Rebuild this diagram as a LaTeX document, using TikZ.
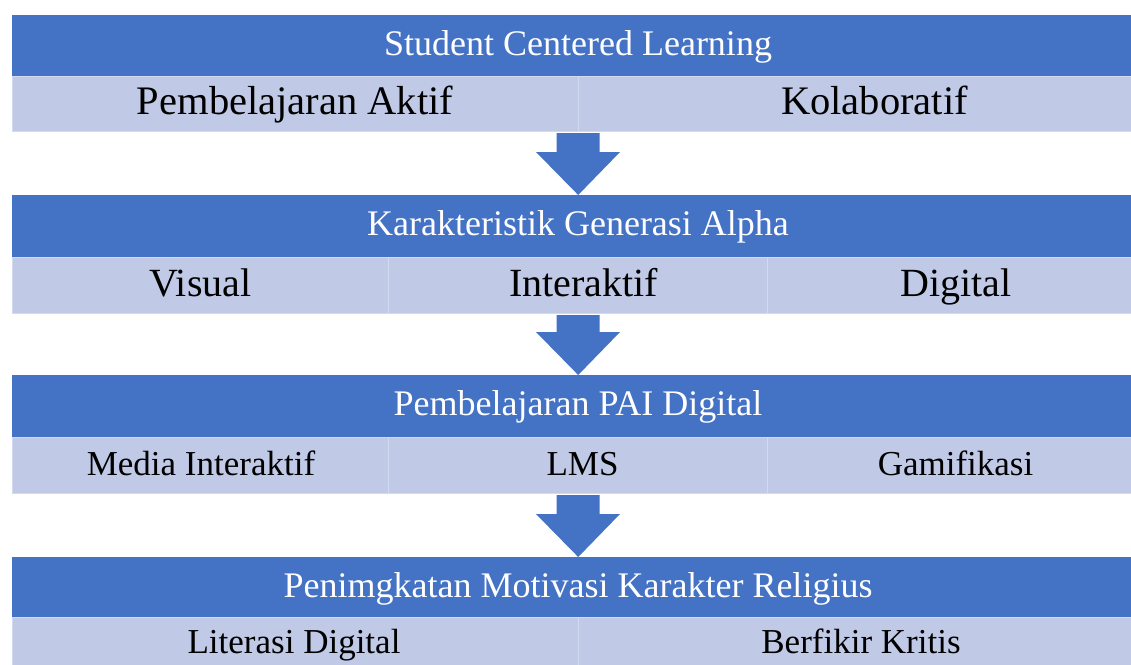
\documentclass[tikz,border=0pt]{standalone}
\usepackage{fontspec}
\setmainfont{Liberation Serif}
\usetikzlibrary{calc}
\definecolor{hblue}{HTML}{4472C4}
\definecolor{lfill}{HTML}{C0C9E6}
\definecolor{lline}{HTML}{D3D9EE}
\newcommand\blockarrow[2]{%
  \fill[hblue] let \p1=(#1), \p2=(#2) in
    (\x1-21.5pt,\y1) -- (\x1+21.5pt,\y1) -- (\x1+21.5pt,\y2+43pt) -- (\x1+42pt,\y2+43pt)
    -- (\x2,\y2) -- (\x1-42pt,\y2+43pt) -- (\x1-21.5pt,\y2+43pt) -- cycle;}
\begin{document}
\begin{tikzpicture}[x=1pt,y=-1pt,
  hdr/.style={fill=hblue, draw=none, minimum width=1132pt, anchor=north west, inner sep=0pt},
  cell/.style={fill=lfill, draw=lline, line width=1.2pt, anchor=north west, inner sep=0pt},
  htext/.style={text=white, font=\fontsize{36}{40}\selectfont, anchor=base, inner sep=0pt},
  bigtext/.style={text=black, font=\fontsize{40.5}{44}\selectfont, anchor=base, inner sep=0pt},
  midtext/.style={text=black, font=\fontsize{40}{44}\selectfont, anchor=base, inner sep=0pt},
  smalltext/.style={text=black, font=\fontsize{35}{40}\selectfont, anchor=base, inner sep=0pt}]
\useasboundingbox (0,0) rectangle (1131,664);
\clip (0,0) rectangle (1131,664);
% block 1
\node[hdr, minimum height=61pt] (h1) at (12,15) {};
\node[cell, minimum width=566pt, minimum height=55pt] (c11) at (12,76) {};
\node[cell, minimum width=566pt, minimum height=55pt] (c12) at (578,76) {};
\node[htext] (t1) at (578,55) {Student Centered Learning};
\node[bigtext] (x11) at (295,114) {Pembelajaran Aktif};
\node[bigtext] (x12) at (874.5,114) {Kolaboratif};
% block 2
\node[hdr, minimum height=62pt] (h2) at (12,195) {};
\node[cell, minimum width=376pt, minimum height=56pt] (c21) at (12,257) {};
\node[cell, minimum width=379pt, minimum height=56pt] (c22) at (388,257) {};
\node[cell, minimum width=377pt, minimum height=56pt] (c23) at (767,257) {};
\node[htext] (t2) at (578,235) {Karakteristik Generasi Alpha};
\node[midtext] (x21) at (200.5,296) {Visual};
\node[midtext] (x22) at (583.5,296) {Interaktif};
\node[midtext] (x23) at (956,296) {Digital};
% block 3
\node[hdr, minimum height=62pt] (h3) at (12,375) {};
\node[cell, minimum width=376pt, minimum height=56pt] (c31) at (12,437) {};
\node[cell, minimum width=379pt, minimum height=56pt] (c32) at (388,437) {};
\node[cell, minimum width=377pt, minimum height=56pt] (c33) at (767,437) {};
\node[htext] (t3) at (578,415) {Pembelajaran PAI Digital};
\node[smalltext] (x31) at (201,475) {Media Interaktif};
\node[smalltext] (x32) at (582.5,475) {LMS};
\node[smalltext] (x33) at (955.5,475) {Gamifikasi};
% block 4
\node[hdr, minimum height=60pt] (h4) at (12,557) {};
\node[cell, minimum width=566pt, minimum height=60pt] (c41) at (12,617) {};
\node[cell, minimum width=566pt, minimum height=60pt] (c42) at (578,617) {};
\node[htext] (t4) at (578,597) {Penimgkatan Motivasi Karakter Religius};
\node[smalltext] (x41) at (294,653) {Literasi Digital};
\node[smalltext] (x42) at (861,653) {Berfikir Kritis};
% arrows
\coordinate (a1) at (578,133);
\coordinate (a2) at (578,315);
\coordinate (a3) at (578,495);
\blockarrow{a1}{h2.north}
\blockarrow{a2}{h3.north}
\blockarrow{a3}{h4.north}
\end{tikzpicture}
\end{document}
